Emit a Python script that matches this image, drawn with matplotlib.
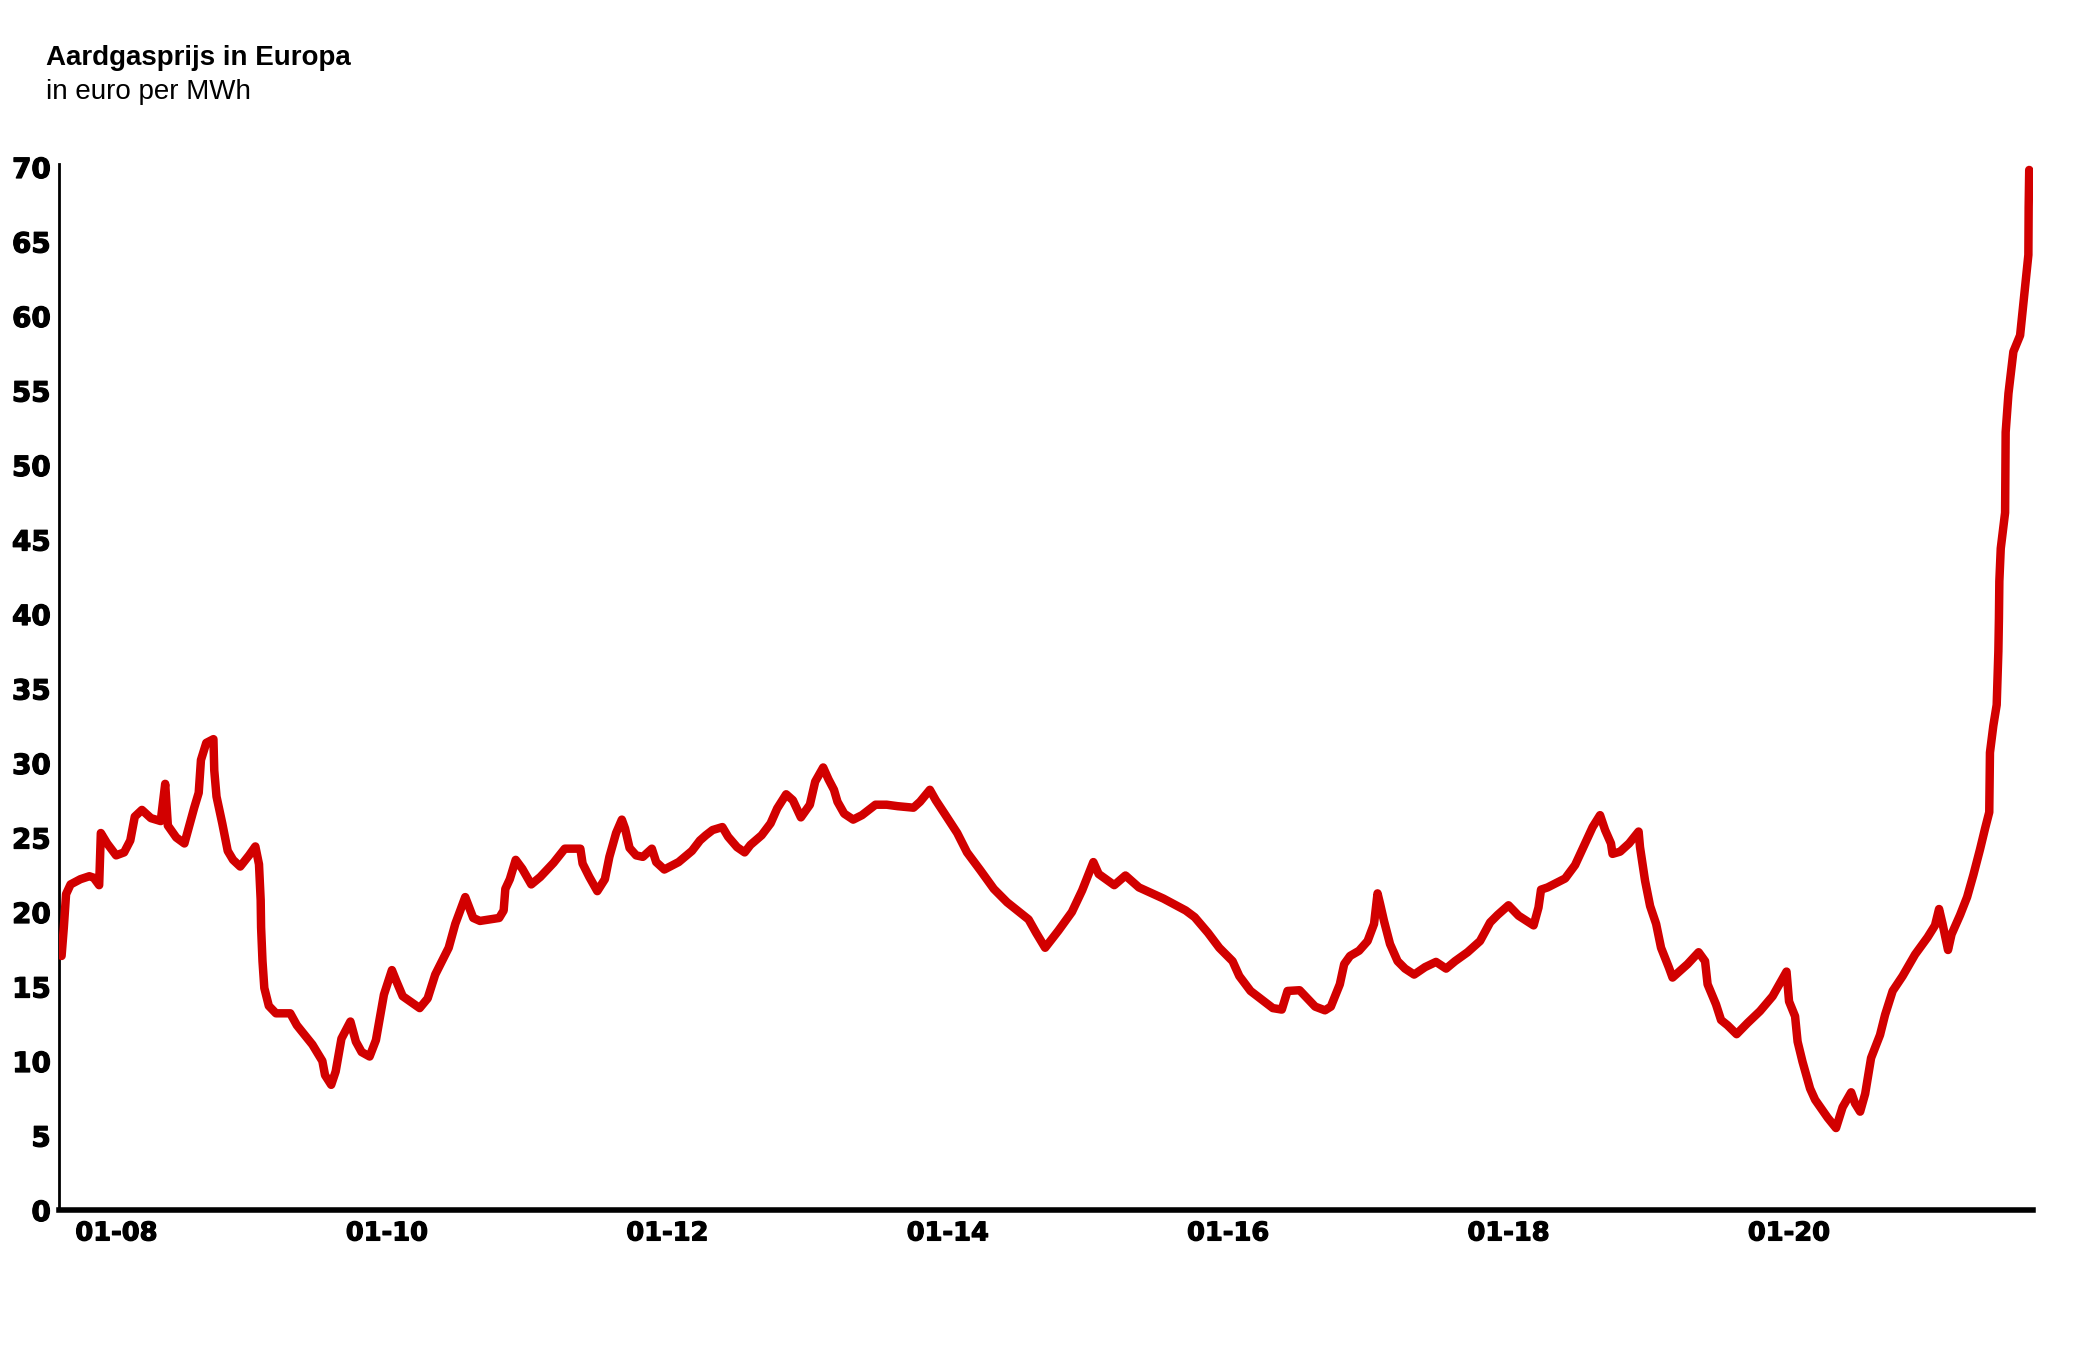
import matplotlib
matplotlib.use("Agg")
import matplotlib.pyplot as plt
import matplotlib.patheffects as pe
import matplotlib.transforms as mtransforms

# TTF-gasprijs (decimale jaren, euro per MWh)
years = [
    2007.679, 2007.695, 2007.711, 2007.743, 2007.813, 2007.877, 2007.908, 2007.947, 2007.959,
    2008.004, 2008.068, 2008.125, 2008.169, 2008.201, 2008.252, 2008.316, 2008.386, 2008.418,
    2008.437, 2008.497, 2008.555, 2008.625, 2008.657, 2008.673, 2008.711, 2008.762, 2008.768,
    2008.784, 2008.825, 2008.864, 2008.902, 2008.953,
    2009.016, 2009.061, 2009.087, 2009.099, 2009.102, 2009.112, 2009.125, 2009.157, 2009.208,
    2009.310, 2009.357, 2009.468, 2009.539, 2009.558, 2009.602, 2009.634, 2009.675, 2009.739,
    2009.778, 2009.819, 2009.876, 2009.921, 2009.978,
    2010.035, 2010.067, 2010.112, 2010.233, 2010.290, 2010.344, 2010.392, 2010.440, 2010.487,
    2010.558, 2010.615, 2010.663, 2010.800, 2010.832, 2010.844, 2010.876, 2010.918, 2010.965,
    2011.029, 2011.093, 2011.188, 2011.268, 2011.379, 2011.395, 2011.443, 2011.500, 2011.554,
    2011.586, 2011.634, 2011.675, 2011.698, 2011.730, 2011.777, 2011.825, 2011.889, 2011.920,
    2011.978,
    2012.080, 2012.175, 2012.232, 2012.274, 2012.322, 2012.392, 2012.433, 2012.497, 2012.551,
    2012.592, 2012.672, 2012.736, 2012.783, 2012.847, 2012.895, 2012.952,
    2013.016, 2013.054, 2013.111, 2013.149, 2013.188, 2013.213, 2013.261, 2013.325, 2013.388,
    2013.484, 2013.564, 2013.643, 2013.755, 2013.802, 2013.872, 2013.914, 2013.977,
    2014.067, 2014.137, 2014.232, 2014.328, 2014.423, 2014.576, 2014.630, 2014.694, 2014.789,
    2014.885, 2014.958,
    2015.038, 2015.076, 2015.187, 2015.267, 2015.363, 2015.538, 2015.697, 2015.761, 2015.856,
    2015.936,
    2016.031, 2016.079, 2016.159, 2016.318, 2016.382, 2016.423, 2016.509, 2016.620, 2016.690,
    2016.732, 2016.796, 2016.827, 2016.869, 2016.933, 2016.994,
    2017.040, 2017.065, 2017.083, 2017.111, 2017.154, 2017.208, 2017.261, 2017.326, 2017.404,
    2017.482, 2017.554, 2017.618, 2017.707, 2017.796, 2017.868, 2017.921, 2017.999,
    2018.071, 2018.178, 2018.213, 2018.231, 2018.278, 2018.403, 2018.474, 2018.528, 2018.599,
    2018.652, 2018.688, 2018.730, 2018.741, 2018.795, 2018.859, 2018.927, 2018.937, 2018.973,
    2019.009, 2019.052, 2019.087, 2019.144, 2019.169, 2019.276, 2019.355, 2019.401, 2019.419,
    2019.479, 2019.515, 2019.561, 2019.626, 2019.704, 2019.793, 2019.883, 2019.943, 2019.982,
    2020.000, 2020.043, 2020.061, 2020.096, 2020.150, 2020.186, 2020.275, 2020.335, 2020.382,
    2020.443, 2020.471, 2020.507, 2020.543, 2020.585, 2020.649, 2020.685, 2020.739, 2020.810,
    2020.899, 2020.988,
    2021.041, 2021.070, 2021.095, 2021.134, 2021.159, 2021.220, 2021.270, 2021.315, 2021.362,
    2021.398, 2021.428, 2021.433, 2021.457, 2021.481, 2021.493, 2021.497, 2021.500, 2021.510,
    2021.541, 2021.545, 2021.565, 2021.600, 2021.648, 2021.683, 2021.707, 2021.709, 2021.711,
    2021.713,
]
prices = [
    17.05, 18.96, 21.2, 21.85, 22.2, 22.4, 22.3, 21.8, 25.3,
    24.6, 23.8, 24.0, 24.8, 26.4, 26.85, 26.3, 26.1, 28.6,
    25.8, 25.0, 24.6, 27.0, 28.0, 30.2, 31.35, 31.6, 29.5,
    27.75, 25.95, 24.1, 23.5, 23.05,
    23.8, 24.4, 23.2, 20.8, 18.96, 16.7, 14.9, 13.7, 13.2,
    13.2, 12.4, 11.1, 10.0, 9.05, 8.4, 9.3, 11.5, 12.65,
    11.3, 10.6, 10.3, 11.4, 14.45,
    16.1, 15.35, 14.35, 13.55, 14.2, 15.8, 16.7, 17.6, 19.2,
    21.0, 19.6, 19.4, 19.6, 20.1, 21.55, 22.2, 23.5, 22.9,
    21.85, 22.35, 23.3, 24.25, 24.25, 23.25, 22.35, 21.4, 22.2,
    23.7, 25.3, 26.2, 25.6, 24.3, 23.8, 23.7, 24.25, 23.35,
    22.85,
    23.35, 24.1, 24.8, 25.15, 25.5, 25.7, 25.05, 24.35, 24.0,
    24.5, 25.15, 25.95, 26.95, 27.9, 27.5, 26.35,
    27.2, 28.75, 29.7, 28.9, 28.2, 27.4, 26.6, 26.2, 26.5,
    27.2, 27.2, 27.1, 27.0, 27.4, 28.2, 27.5, 26.6,
    25.3, 24.0, 22.8, 21.55, 20.65, 19.5, 18.6, 17.6, 18.75,
    20.0, 21.45,
    23.35, 22.55, 21.8, 22.45, 21.65, 20.9, 20.1, 19.65, 18.6,
    17.6,
    16.7, 15.7, 14.7, 13.55, 13.45, 14.7, 14.75, 13.65, 13.4,
    13.65, 15.15, 16.5, 17.05, 17.4, 18.05,
    19.2, 21.25, 20.55, 19.4, 17.85, 16.7, 16.2, 15.8, 16.3,
    16.65, 16.2, 16.7, 17.3, 18.05, 19.3, 19.8, 20.45,
    19.75, 19.1, 20.3, 21.5, 21.65, 22.25, 23.15, 24.25, 25.7,
    26.5, 25.5, 24.6, 23.9, 24.05, 24.6, 25.4, 24.35, 22.1,
    20.4, 19.2, 17.6, 16.25, 15.6, 16.5, 17.3, 16.7, 15.15,
    13.8, 12.75, 12.4, 11.8, 12.55, 13.35, 14.35, 15.35, 16.0,
    14.0, 13.0, 11.3, 9.95, 8.15, 7.4, 6.2, 5.5, 6.9,
    7.9, 7.15, 6.6, 7.8, 10.2, 11.75, 13.1, 14.7, 15.7,
    17.15, 18.3,
    19.1, 20.2, 19.2, 17.45, 18.5, 19.8, 21.0, 22.5, 24.2,
    25.6, 26.7, 30.7, 32.5, 33.9, 37.5, 39.7, 42.2, 44.4,
    46.8, 52.2, 54.8, 57.6, 58.7, 61.9, 64.1, 67.3, 68.4,
    69.8,
]

xtick_pos = [2008, 2010, 2012, 2014, 2016, 2018, 2020]
xtick_labels = ["01-08", "01-10", "01-12", "01-14", "01-16", "01-18", "01-20"]
ytick_pos = list(range(0, 75, 5))

title = "Aardgasprijs in Europa"
subtitle = "in euro per MWh"

W, H = 2084, 1348
fig = plt.figure(figsize=(W / 100, H / 100), dpi=100)
fig.patch.set_facecolor("white")

# as-positie in pixels: y-as bij x=58.5, x-as bij y=1210, rechts tot 2033
left, right = 58.5, 2033
bottom_px, top_px = 1210, 164
ax = fig.add_axes([left / W, (H - bottom_px) / H, (right - left) / W, (bottom_px - top_px) / H])

ax.plot(years, prices, color="#d20000", linewidth=6.1,
        solid_joinstyle="round", solid_capstyle="round", zorder=3)

ax.set_xlim(2007.657, 2021.740)
ax.set_ylim(0, 70.2)

for s in ["top", "right"]:
    ax.spines[s].set_visible(False)
ax.spines["left"].set_linewidth(2.0)
ax.spines["bottom"].set_linewidth(4.0)
ax.spines["bottom"].set_zorder(4)

ax.set_xticks(xtick_pos)
ax.set_xticklabels(xtick_labels)
ax.set_yticks(ytick_pos)
ax.set_yticklabels([str(v) for v in ytick_pos])
ax.tick_params(axis="x", length=0, pad=7.5)
ax.tick_params(axis="y", length=0, pad=5.5)

heavy = [pe.withStroke(linewidth=0.9, foreground="black")]
for lab in ax.get_xticklabels():
    lab.set_fontfamily("DejaVu Sans")
    lab.set_fontweight("bold")
    lab.set_fontsize(18.5)
    lab.set_path_effects(heavy)
for lab in ax.get_yticklabels():
    lab.set_fontfamily("DejaVu Sans")
    lab.set_fontweight("bold")
    lab.set_fontsize(20)
    lab.set_path_effects(heavy)

# eerste datumlabel staat in het origineel iets naar rechts
first = ax.get_xticklabels()[0]
first.set_transform(first.get_transform() + mtransforms.ScaledTranslation(10 / 100, 0, fig.dpi_scale_trans))

fig.text(46 / W, 1 - 65 / H, title, fontsize=20, fontweight="bold",
         family=["Liberation Sans", "DejaVu Sans"], va="baseline", ha="left")
fig.text(46 / W, 1 - 99 / H, subtitle, fontsize=20,
         family=["Liberation Sans", "DejaVu Sans"], va="baseline", ha="left")

fig.savefig("out.png", dpi=100, facecolor="white")
